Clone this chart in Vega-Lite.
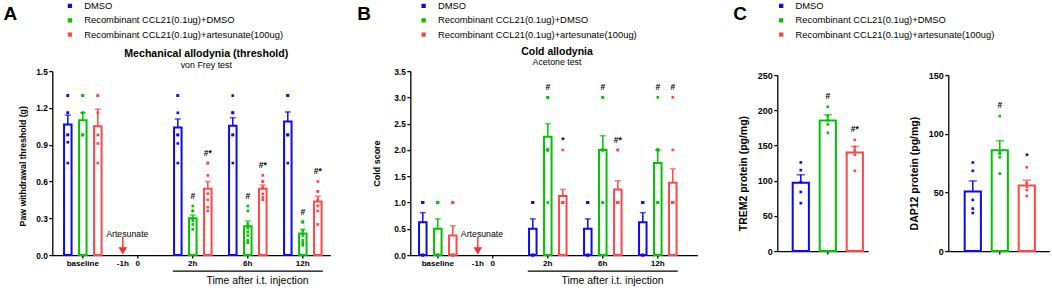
{
 "$schema": "https://vega.github.io/schema/vega-lite/v6.json",
 "background": "white",
 "padding": {"left": 3.3, "top": 1.1, "right": 0, "bottom": 0},
 "spacing": 80,
 "bounds": "flush",
 "center": true,
 "resolve": {"scale": {"color": "independent", "x": "independent", "y": "independent"}, "legend": {"color": "independent"}},
 "datasets": {
  "a_bars": [
   {"time": "baseline", "group": "DMSO", "mean": 1.065, "upper": 1.14, "max": 1.3},
   {"time": "baseline", "group": "Recombinant CCL21(0.1ug)+DMSO", "mean": 1.1, "upper": 1.16, "max": 1.3},
   {"time": "baseline", "group": "Recombinant CCL21(0.1ug)+artesunate(100ug)", "mean": 1.05, "upper": 1.19, "max": 1.3},
   {"time": "2h", "group": "DMSO", "mean": 1.04, "upper": 1.11, "max": 1.3},
   {"time": "2h", "group": "Recombinant CCL21(0.1ug)+DMSO", "mean": 0.3, "upper": 0.327, "max": 0.4, "sig": "#"},
   {"time": "2h", "group": "Recombinant CCL21(0.1ug)+artesunate(100ug)", "mean": 0.54, "upper": 0.6, "max": 0.75, "sig": "#*"},
   {"time": "6h", "group": "DMSO", "mean": 1.055, "upper": 1.12, "max": 1.3},
   {"time": "6h", "group": "Recombinant CCL21(0.1ug)+DMSO", "mean": 0.235, "upper": 0.278, "max": 0.4, "sig": "#"},
   {"time": "6h", "group": "Recombinant CCL21(0.1ug)+artesunate(100ug)", "mean": 0.54, "upper": 0.572, "max": 0.65, "sig": "#*"},
   {"time": "12h", "group": "DMSO", "mean": 1.09, "upper": 1.167, "max": 1.3},
   {"time": "12h", "group": "Recombinant CCL21(0.1ug)+DMSO", "mean": 0.177, "upper": 0.21, "max": 0.27, "sig": "#"},
   {"time": "12h", "group": "Recombinant CCL21(0.1ug)+artesunate(100ug)", "mean": 0.436, "upper": 0.48, "max": 0.6, "sig": "#*"}
  ],
  "a_dots": [
   {"time": "baseline", "group": "DMSO", "value": 1.3}, {"time": "baseline", "group": "DMSO", "value": 1.3}, {"time": "baseline", "group": "DMSO", "value": 1.16}, {"time": "baseline", "group": "DMSO", "value": 1.16}, {"time": "baseline", "group": "DMSO", "value": 0.98}, {"time": "baseline", "group": "DMSO", "value": 0.98}, {"time": "baseline", "group": "DMSO", "value": 0.92}, {"time": "baseline", "group": "DMSO", "value": 0.75},
   {"time": "baseline", "group": "Recombinant CCL21(0.1ug)+DMSO", "value": 1.3}, {"time": "baseline", "group": "Recombinant CCL21(0.1ug)+DMSO", "value": 1.3}, {"time": "baseline", "group": "Recombinant CCL21(0.1ug)+DMSO", "value": 1.3}, {"time": "baseline", "group": "Recombinant CCL21(0.1ug)+DMSO", "value": 1.16}, {"time": "baseline", "group": "Recombinant CCL21(0.1ug)+DMSO", "value": 1.16}, {"time": "baseline", "group": "Recombinant CCL21(0.1ug)+DMSO", "value": 0.98}, {"time": "baseline", "group": "Recombinant CCL21(0.1ug)+DMSO", "value": 0.98}, {"time": "baseline", "group": "Recombinant CCL21(0.1ug)+DMSO", "value": 0.98},
   {"time": "baseline", "group": "Recombinant CCL21(0.1ug)+artesunate(100ug)", "value": 1.3}, {"time": "baseline", "group": "Recombinant CCL21(0.1ug)+artesunate(100ug)", "value": 1.3}, {"time": "baseline", "group": "Recombinant CCL21(0.1ug)+artesunate(100ug)", "value": 1.16}, {"time": "baseline", "group": "Recombinant CCL21(0.1ug)+artesunate(100ug)", "value": 0.98}, {"time": "baseline", "group": "Recombinant CCL21(0.1ug)+artesunate(100ug)", "value": 0.91}, {"time": "baseline", "group": "Recombinant CCL21(0.1ug)+artesunate(100ug)", "value": 0.75},
   {"time": "2h", "group": "DMSO", "value": 1.3}, {"time": "2h", "group": "DMSO", "value": 1.3}, {"time": "2h", "group": "DMSO", "value": 1.16}, {"time": "2h", "group": "DMSO", "value": 0.98}, {"time": "2h", "group": "DMSO", "value": 0.98}, {"time": "2h", "group": "DMSO", "value": 0.91}, {"time": "2h", "group": "DMSO", "value": 0.75},
   {"time": "2h", "group": "Recombinant CCL21(0.1ug)+DMSO", "value": 0.4}, {"time": "2h", "group": "Recombinant CCL21(0.1ug)+DMSO", "value": 0.36}, {"time": "2h", "group": "Recombinant CCL21(0.1ug)+DMSO", "value": 0.36}, {"time": "2h", "group": "Recombinant CCL21(0.1ug)+DMSO", "value": 0.3}, {"time": "2h", "group": "Recombinant CCL21(0.1ug)+DMSO", "value": 0.28}, {"time": "2h", "group": "Recombinant CCL21(0.1ug)+DMSO", "value": 0.25}, {"time": "2h", "group": "Recombinant CCL21(0.1ug)+DMSO", "value": 0.21},
   {"time": "2h", "group": "Recombinant CCL21(0.1ug)+artesunate(100ug)", "value": 0.75}, {"time": "2h", "group": "Recombinant CCL21(0.1ug)+artesunate(100ug)", "value": 0.75}, {"time": "2h", "group": "Recombinant CCL21(0.1ug)+artesunate(100ug)", "value": 0.65}, {"time": "2h", "group": "Recombinant CCL21(0.1ug)+artesunate(100ug)", "value": 0.5}, {"time": "2h", "group": "Recombinant CCL21(0.1ug)+artesunate(100ug)", "value": 0.45}, {"time": "2h", "group": "Recombinant CCL21(0.1ug)+artesunate(100ug)", "value": 0.39}, {"time": "2h", "group": "Recombinant CCL21(0.1ug)+artesunate(100ug)", "value": 0.36},
   {"time": "6h", "group": "DMSO", "value": 1.3}, {"time": "6h", "group": "DMSO", "value": 1.16}, {"time": "6h", "group": "DMSO", "value": 1.16}, {"time": "6h", "group": "DMSO", "value": 1.16}, {"time": "6h", "group": "DMSO", "value": 0.98}, {"time": "6h", "group": "DMSO", "value": 0.98}, {"time": "6h", "group": "DMSO", "value": 0.75},
   {"time": "6h", "group": "Recombinant CCL21(0.1ug)+DMSO", "value": 0.4}, {"time": "6h", "group": "Recombinant CCL21(0.1ug)+DMSO", "value": 0.36}, {"time": "6h", "group": "Recombinant CCL21(0.1ug)+DMSO", "value": 0.25}, {"time": "6h", "group": "Recombinant CCL21(0.1ug)+DMSO", "value": 0.22}, {"time": "6h", "group": "Recombinant CCL21(0.1ug)+DMSO", "value": 0.19}, {"time": "6h", "group": "Recombinant CCL21(0.1ug)+DMSO", "value": 0.16}, {"time": "6h", "group": "Recombinant CCL21(0.1ug)+DMSO", "value": 0.12}, {"time": "6h", "group": "Recombinant CCL21(0.1ug)+DMSO", "value": 0.1},
   {"time": "6h", "group": "Recombinant CCL21(0.1ug)+artesunate(100ug)", "value": 0.65}, {"time": "6h", "group": "Recombinant CCL21(0.1ug)+artesunate(100ug)", "value": 0.6}, {"time": "6h", "group": "Recombinant CCL21(0.1ug)+artesunate(100ug)", "value": 0.6}, {"time": "6h", "group": "Recombinant CCL21(0.1ug)+artesunate(100ug)", "value": 0.55}, {"time": "6h", "group": "Recombinant CCL21(0.1ug)+artesunate(100ug)", "value": 0.55}, {"time": "6h", "group": "Recombinant CCL21(0.1ug)+artesunate(100ug)", "value": 0.5}, {"time": "6h", "group": "Recombinant CCL21(0.1ug)+artesunate(100ug)", "value": 0.47}, {"time": "6h", "group": "Recombinant CCL21(0.1ug)+artesunate(100ug)", "value": 0.45},
   {"time": "12h", "group": "DMSO", "value": 1.3}, {"time": "12h", "group": "DMSO", "value": 1.3}, {"time": "12h", "group": "DMSO", "value": 1.3}, {"time": "12h", "group": "DMSO", "value": 0.98}, {"time": "12h", "group": "DMSO", "value": 0.98}, {"time": "12h", "group": "DMSO", "value": 0.98}, {"time": "12h", "group": "DMSO", "value": 0.75},
   {"time": "12h", "group": "Recombinant CCL21(0.1ug)+DMSO", "value": 0.27}, {"time": "12h", "group": "Recombinant CCL21(0.1ug)+DMSO", "value": 0.27}, {"time": "12h", "group": "Recombinant CCL21(0.1ug)+DMSO", "value": 0.27}, {"time": "12h", "group": "Recombinant CCL21(0.1ug)+DMSO", "value": 0.2}, {"time": "12h", "group": "Recombinant CCL21(0.1ug)+DMSO", "value": 0.16}, {"time": "12h", "group": "Recombinant CCL21(0.1ug)+DMSO", "value": 0.12}, {"time": "12h", "group": "Recombinant CCL21(0.1ug)+DMSO", "value": 0.1}, {"time": "12h", "group": "Recombinant CCL21(0.1ug)+DMSO", "value": 0.08},
   {"time": "12h", "group": "Recombinant CCL21(0.1ug)+artesunate(100ug)", "value": 0.6}, {"time": "12h", "group": "Recombinant CCL21(0.1ug)+artesunate(100ug)", "value": 0.52}, {"time": "12h", "group": "Recombinant CCL21(0.1ug)+artesunate(100ug)", "value": 0.52}, {"time": "12h", "group": "Recombinant CCL21(0.1ug)+artesunate(100ug)", "value": 0.45}, {"time": "12h", "group": "Recombinant CCL21(0.1ug)+artesunate(100ug)", "value": 0.4}, {"time": "12h", "group": "Recombinant CCL21(0.1ug)+artesunate(100ug)", "value": 0.36}, {"time": "12h", "group": "Recombinant CCL21(0.1ug)+artesunate(100ug)", "value": 0.25}
  ],
  "b_bars": [
   {"time": "baseline", "group": "DMSO", "mean": 0.625, "upper": 0.808, "max": 1},
   {"time": "baseline", "group": "Recombinant CCL21(0.1ug)+DMSO", "mean": 0.5, "upper": 0.689, "max": 1},
   {"time": "baseline", "group": "Recombinant CCL21(0.1ug)+artesunate(100ug)", "mean": 0.375, "upper": 0.558, "max": 1},
   {"time": "2h", "group": "DMSO", "mean": 0.5, "upper": 0.689, "max": 1},
   {"time": "2h", "group": "Recombinant CCL21(0.1ug)+DMSO", "mean": 2.25, "upper": 2.5, "max": 3, "sig": "#"},
   {"time": "2h", "group": "Recombinant CCL21(0.1ug)+artesunate(100ug)", "mean": 1.125, "upper": 1.25, "max": 2, "sig": "*"},
   {"time": "6h", "group": "DMSO", "mean": 0.5, "upper": 0.689, "max": 1},
   {"time": "6h", "group": "Recombinant CCL21(0.1ug)+DMSO", "mean": 2.0, "upper": 2.27, "max": 3, "sig": "#"},
   {"time": "6h", "group": "Recombinant CCL21(0.1ug)+artesunate(100ug)", "mean": 1.25, "upper": 1.414, "max": 2, "sig": "#*"},
   {"time": "12h", "group": "DMSO", "mean": 0.625, "upper": 0.808, "max": 1},
   {"time": "12h", "group": "Recombinant CCL21(0.1ug)+DMSO", "mean": 1.75, "upper": 2.0, "max": 3, "sig": "#"},
   {"time": "12h", "group": "Recombinant CCL21(0.1ug)+artesunate(100ug)", "mean": 1.375, "upper": 1.64, "max": 3, "sig": "#"}
  ],
  "b_dots": [
   {"time": "baseline", "group": "DMSO", "value": 1}, {"time": "baseline", "group": "DMSO", "value": 1}, {"time": "baseline", "group": "DMSO", "value": 1}, {"time": "baseline", "group": "DMSO", "value": 1}, {"time": "baseline", "group": "DMSO", "value": 1}, {"time": "baseline", "group": "DMSO", "value": 0}, {"time": "baseline", "group": "DMSO", "value": 0}, {"time": "baseline", "group": "DMSO", "value": 0},
   {"time": "baseline", "group": "Recombinant CCL21(0.1ug)+DMSO", "value": 1}, {"time": "baseline", "group": "Recombinant CCL21(0.1ug)+DMSO", "value": 1}, {"time": "baseline", "group": "Recombinant CCL21(0.1ug)+DMSO", "value": 1}, {"time": "baseline", "group": "Recombinant CCL21(0.1ug)+DMSO", "value": 1}, {"time": "baseline", "group": "Recombinant CCL21(0.1ug)+DMSO", "value": 0}, {"time": "baseline", "group": "Recombinant CCL21(0.1ug)+DMSO", "value": 0}, {"time": "baseline", "group": "Recombinant CCL21(0.1ug)+DMSO", "value": 0}, {"time": "baseline", "group": "Recombinant CCL21(0.1ug)+DMSO", "value": 0},
   {"time": "baseline", "group": "Recombinant CCL21(0.1ug)+artesunate(100ug)", "value": 1}, {"time": "baseline", "group": "Recombinant CCL21(0.1ug)+artesunate(100ug)", "value": 1}, {"time": "baseline", "group": "Recombinant CCL21(0.1ug)+artesunate(100ug)", "value": 1}, {"time": "baseline", "group": "Recombinant CCL21(0.1ug)+artesunate(100ug)", "value": 0}, {"time": "baseline", "group": "Recombinant CCL21(0.1ug)+artesunate(100ug)", "value": 0}, {"time": "baseline", "group": "Recombinant CCL21(0.1ug)+artesunate(100ug)", "value": 0}, {"time": "baseline", "group": "Recombinant CCL21(0.1ug)+artesunate(100ug)", "value": 0}, {"time": "baseline", "group": "Recombinant CCL21(0.1ug)+artesunate(100ug)", "value": 0},
   {"time": "2h", "group": "DMSO", "value": 1}, {"time": "2h", "group": "DMSO", "value": 1}, {"time": "2h", "group": "DMSO", "value": 1}, {"time": "2h", "group": "DMSO", "value": 1}, {"time": "2h", "group": "DMSO", "value": 0}, {"time": "2h", "group": "DMSO", "value": 0}, {"time": "2h", "group": "DMSO", "value": 0}, {"time": "2h", "group": "DMSO", "value": 0},
   {"time": "2h", "group": "Recombinant CCL21(0.1ug)+DMSO", "value": 3}, {"time": "2h", "group": "Recombinant CCL21(0.1ug)+DMSO", "value": 3}, {"time": "2h", "group": "Recombinant CCL21(0.1ug)+DMSO", "value": 3}, {"time": "2h", "group": "Recombinant CCL21(0.1ug)+DMSO", "value": 2}, {"time": "2h", "group": "Recombinant CCL21(0.1ug)+DMSO", "value": 2}, {"time": "2h", "group": "Recombinant CCL21(0.1ug)+DMSO", "value": 2}, {"time": "2h", "group": "Recombinant CCL21(0.1ug)+DMSO", "value": 2}, {"time": "2h", "group": "Recombinant CCL21(0.1ug)+DMSO", "value": 1},
   {"time": "2h", "group": "Recombinant CCL21(0.1ug)+artesunate(100ug)", "value": 2}, {"time": "2h", "group": "Recombinant CCL21(0.1ug)+artesunate(100ug)", "value": 1}, {"time": "2h", "group": "Recombinant CCL21(0.1ug)+artesunate(100ug)", "value": 1}, {"time": "2h", "group": "Recombinant CCL21(0.1ug)+artesunate(100ug)", "value": 1}, {"time": "2h", "group": "Recombinant CCL21(0.1ug)+artesunate(100ug)", "value": 1}, {"time": "2h", "group": "Recombinant CCL21(0.1ug)+artesunate(100ug)", "value": 1}, {"time": "2h", "group": "Recombinant CCL21(0.1ug)+artesunate(100ug)", "value": 1}, {"time": "2h", "group": "Recombinant CCL21(0.1ug)+artesunate(100ug)", "value": 1},
   {"time": "6h", "group": "DMSO", "value": 1}, {"time": "6h", "group": "DMSO", "value": 1}, {"time": "6h", "group": "DMSO", "value": 1}, {"time": "6h", "group": "DMSO", "value": 1}, {"time": "6h", "group": "DMSO", "value": 0}, {"time": "6h", "group": "DMSO", "value": 0}, {"time": "6h", "group": "DMSO", "value": 0}, {"time": "6h", "group": "DMSO", "value": 0},
   {"time": "6h", "group": "Recombinant CCL21(0.1ug)+DMSO", "value": 3}, {"time": "6h", "group": "Recombinant CCL21(0.1ug)+DMSO", "value": 3}, {"time": "6h", "group": "Recombinant CCL21(0.1ug)+DMSO", "value": 2}, {"time": "6h", "group": "Recombinant CCL21(0.1ug)+DMSO", "value": 2}, {"time": "6h", "group": "Recombinant CCL21(0.1ug)+DMSO", "value": 2}, {"time": "6h", "group": "Recombinant CCL21(0.1ug)+DMSO", "value": 2}, {"time": "6h", "group": "Recombinant CCL21(0.1ug)+DMSO", "value": 1}, {"time": "6h", "group": "Recombinant CCL21(0.1ug)+DMSO", "value": 1},
   {"time": "6h", "group": "Recombinant CCL21(0.1ug)+artesunate(100ug)", "value": 2}, {"time": "6h", "group": "Recombinant CCL21(0.1ug)+artesunate(100ug)", "value": 2}, {"time": "6h", "group": "Recombinant CCL21(0.1ug)+artesunate(100ug)", "value": 1}, {"time": "6h", "group": "Recombinant CCL21(0.1ug)+artesunate(100ug)", "value": 1}, {"time": "6h", "group": "Recombinant CCL21(0.1ug)+artesunate(100ug)", "value": 1}, {"time": "6h", "group": "Recombinant CCL21(0.1ug)+artesunate(100ug)", "value": 1}, {"time": "6h", "group": "Recombinant CCL21(0.1ug)+artesunate(100ug)", "value": 1}, {"time": "6h", "group": "Recombinant CCL21(0.1ug)+artesunate(100ug)", "value": 1},
   {"time": "12h", "group": "DMSO", "value": 1}, {"time": "12h", "group": "DMSO", "value": 1}, {"time": "12h", "group": "DMSO", "value": 1}, {"time": "12h", "group": "DMSO", "value": 1}, {"time": "12h", "group": "DMSO", "value": 1}, {"time": "12h", "group": "DMSO", "value": 0}, {"time": "12h", "group": "DMSO", "value": 0}, {"time": "12h", "group": "DMSO", "value": 0},
   {"time": "12h", "group": "Recombinant CCL21(0.1ug)+DMSO", "value": 3}, {"time": "12h", "group": "Recombinant CCL21(0.1ug)+DMSO", "value": 2}, {"time": "12h", "group": "Recombinant CCL21(0.1ug)+DMSO", "value": 2}, {"time": "12h", "group": "Recombinant CCL21(0.1ug)+DMSO", "value": 2}, {"time": "12h", "group": "Recombinant CCL21(0.1ug)+DMSO", "value": 2}, {"time": "12h", "group": "Recombinant CCL21(0.1ug)+DMSO", "value": 1}, {"time": "12h", "group": "Recombinant CCL21(0.1ug)+DMSO", "value": 1}, {"time": "12h", "group": "Recombinant CCL21(0.1ug)+DMSO", "value": 1},
   {"time": "12h", "group": "Recombinant CCL21(0.1ug)+artesunate(100ug)", "value": 3}, {"time": "12h", "group": "Recombinant CCL21(0.1ug)+artesunate(100ug)", "value": 2}, {"time": "12h", "group": "Recombinant CCL21(0.1ug)+artesunate(100ug)", "value": 1}, {"time": "12h", "group": "Recombinant CCL21(0.1ug)+artesunate(100ug)", "value": 1}, {"time": "12h", "group": "Recombinant CCL21(0.1ug)+artesunate(100ug)", "value": 1}, {"time": "12h", "group": "Recombinant CCL21(0.1ug)+artesunate(100ug)", "value": 1}, {"time": "12h", "group": "Recombinant CCL21(0.1ug)+artesunate(100ug)", "value": 1}, {"time": "12h", "group": "Recombinant CCL21(0.1ug)+artesunate(100ug)", "value": 1}
  ],
  "c1_bars": [
   {"group": "DMSO", "mean": 97, "upper": 108.4, "max": 126},
   {"group": "Recombinant CCL21(0.1ug)+DMSO", "mean": 185.6, "upper": 193.7, "max": 205, "sig": "#"},
   {"group": "Recombinant CCL21(0.1ug)+artesunate(100ug)", "mean": 140.2, "upper": 148.7, "max": 158, "sig": "#*"}
  ],
  "c1_dots": [
   {"group": "DMSO", "value": 126}, {"group": "DMSO", "value": 115}, {"group": "DMSO", "value": 98}, {"group": "DMSO", "value": 84}, {"group": "DMSO", "value": 68},
   {"group": "Recombinant CCL21(0.1ug)+DMSO", "value": 205}, {"group": "Recombinant CCL21(0.1ug)+DMSO", "value": 192}, {"group": "Recombinant CCL21(0.1ug)+DMSO", "value": 186}, {"group": "Recombinant CCL21(0.1ug)+DMSO", "value": 180}, {"group": "Recombinant CCL21(0.1ug)+DMSO", "value": 168},
   {"group": "Recombinant CCL21(0.1ug)+artesunate(100ug)", "value": 158}, {"group": "Recombinant CCL21(0.1ug)+artesunate(100ug)", "value": 148}, {"group": "Recombinant CCL21(0.1ug)+artesunate(100ug)", "value": 143}, {"group": "Recombinant CCL21(0.1ug)+artesunate(100ug)", "value": 137}, {"group": "Recombinant CCL21(0.1ug)+artesunate(100ug)", "value": 114}
  ],
  "c2_bars": [
   {"group": "DMSO", "mean": 50.7, "upper": 59.8, "max": 75.5},
   {"group": "Recombinant CCL21(0.1ug)+DMSO", "mean": 86, "upper": 94, "max": 115, "sig": "#"},
   {"group": "Recombinant CCL21(0.1ug)+artesunate(100ug)", "mean": 55.8, "upper": 60.4, "max": 71.5, "sig": "*"}
  ],
  "c2_dots": [
   {"group": "DMSO", "value": 75.5}, {"group": "DMSO", "value": 68.4}, {"group": "DMSO", "value": 43.6}, {"group": "DMSO", "value": 36.2}, {"group": "DMSO", "value": 32.5},
   {"group": "Recombinant CCL21(0.1ug)+DMSO", "value": 115}, {"group": "Recombinant CCL21(0.1ug)+DMSO", "value": 84}, {"group": "Recombinant CCL21(0.1ug)+DMSO", "value": 83}, {"group": "Recombinant CCL21(0.1ug)+DMSO", "value": 80}, {"group": "Recombinant CCL21(0.1ug)+DMSO", "value": 66},
   {"group": "Recombinant CCL21(0.1ug)+artesunate(100ug)", "value": 71.5}, {"group": "Recombinant CCL21(0.1ug)+artesunate(100ug)", "value": 58}, {"group": "Recombinant CCL21(0.1ug)+artesunate(100ug)", "value": 55}, {"group": "Recombinant CCL21(0.1ug)+artesunate(100ug)", "value": 52}, {"group": "Recombinant CCL21(0.1ug)+artesunate(100ug)", "value": 47}
  ]
 },
 "hconcat": [
  {
   "width": 278, "height": 184,
   "title": {"text": "Mechanical allodynia (threshold)", "subtitle": "von Frey test", "fontSize": 10.6, "fontWeight": "bold", "subtitleFontSize": 8.9, "subtitleFontWeight": "normal", "subtitleColor": "black", "color": "black", "subtitlePadding": 1.5, "offset": 2, "anchor": "middle", "frame": "group", "dx": 15, "dy": 70.4},
   "layer": [
    {
     "data": {"name": "a_dots"},
     "mark": {"type": "point", "shape": "square", "filled": true, "size": 7, "opacity": 1},
     "encoding": {
      "x": {"field": "time", "type": "nominal", "scale": {"type": "band", "domain": ["baseline", "0", "2h", "6h", "12h"], "paddingInner": 0, "paddingOuter": 0.02727, "align": 1},
            "axis": {"title": "Time after i.t. injection", "titleFontWeight": "normal", "titleFontSize": 10.5, "titleX": 204.7, "titleY": 25.7, "titleBaseline": "middle", "labelAngle": 0, "labelFontSize": 8.1, "labelPadding": 1.7, "tickSize": 3, "labelOverlap": false, "encode": {"ticks": {"update": {"opacity": {"signal": "datum.value === 'baseline' ? 1 : 0"}}}}}},
      "xOffset": {"field": "group", "type": "nominal", "scale": {"domain": ["DMSO", "Recombinant CCL21(0.1ug)+DMSO", "Recombinant CCL21(0.1ug)+artesunate(100ug)"], "paddingInner": 0, "paddingOuter": 0.3333}},
      "y": {"field": "value", "type": "quantitative", "scale": {"domain": [0, 1.5], "nice": false}, "axis": {"values": [0, 0.3, 0.6, 0.9, 1.2, 1.5], "tickCount": 20, "format": ".1f", "labelOverlap": false, "labelFlush": false, "title": "Paw withdrawal threshold (g)", "titleFontSize": 8.7, "tickSize": 3.5, "labelPadding": 1.5, "titlePadding": 7.7, "titleY": 94.7}},
      "color": {"field": "group", "type": "nominal", "scale": {"domain": ["DMSO", "Recombinant CCL21(0.1ug)+DMSO", "Recombinant CCL21(0.1ug)+artesunate(100ug)"], "range": ["#0a0af5", "#00c400", "#ff4747"]},
                "legend": {"orient": "none", "legendX": -48.7, "legendY": -69.9, "title": "A", "titleOrient": "left", "titleAnchor": "middle", "titleBaseline": "alphabetic", "titleFontSize": 19, "titleFontWeight": "bold", "titleColor": "black", "titlePadding": 47.6, "labelFontSize": 9.4, "labelColor": "black", "labelLimit": 400, "labelOffset": 9.6, "symbolType": "square", "symbolSize": 8, "rowPadding": 3.4, "padding": 0}}
     }
    },
    {
     "data": {"name": "a_bars"},
     "mark": {"type": "bar", "filled": false, "strokeWidth": 2, "width": 7.5},
     "encoding": {
      "x": {"field": "time", "type": "nominal"},
      "xOffset": {"field": "group", "type": "nominal"},
      "y": {"field": "mean", "type": "quantitative"},
      "color": {"field": "group", "type": "nominal"}
     }
    },
    {
     "data": {"name": "a_bars"},
     "mark": {"type": "rule", "strokeWidth": 1.5},
     "encoding": {
      "x": {"field": "time", "type": "nominal"},
      "xOffset": {"field": "group", "type": "nominal"},
      "y": {"field": "mean", "type": "quantitative"},
      "y2": {"field": "upper"},
      "color": {"field": "group", "type": "nominal"}
     }
    },
    {
     "data": {"name": "a_bars"},
     "mark": {"type": "tick", "size": 6, "thickness": 1.5},
     "encoding": {
      "x": {"field": "time", "type": "nominal"},
      "xOffset": {"field": "group", "type": "nominal"},
      "y": {"field": "upper", "type": "quantitative"},
      "color": {"field": "group", "type": "nominal"}
     }
    },
    {
     "data": {"name": "a_bars"},
     "transform": [{"filter": "isValid(datum.sig)"}],
     "mark": {"type": "text", "fontSize": 8.5, "fontWeight": "bold", "color": "black", "baseline": "middle", "dy": -10},
     "encoding": {
      "x": {"field": "time", "type": "nominal"},
      "xOffset": {"field": "group", "type": "nominal"},
      "y": {"field": "max", "type": "quantitative"},
      "text": {"field": "sig"}
     }
    },
    {
     "data": {"values": [{}]},
     "mark": {"type": "rule", "strokeWidth": 1.4, "color": "black", "xOffset": -20, "x2Offset": 20, "yOffset": 16},
     "encoding": {"x": {"datum": "2h"}, "x2": {"datum": "12h"}, "y": {"datum": 0, "type": "quantitative"}}
    },
    {
     "data": {"values": [{}]},
     "mark": {"type": "point", "shape": "M0,-1V0.4M-0.38,0.35L0.38,0.35L0,1Z", "size": 256, "filled": true, "color": "#ff2a2a", "stroke": "#ff2a2a", "strokeWidth": 1.4, "opacity": 1, "xOffset": -15, "yOffset": -10},
     "encoding": {"x": {"datum": "0"}, "y": {"datum": 0, "type": "quantitative"}}
    },
    {
     "data": {"values": [{}]},
     "mark": {"type": "text", "text": "Artesunate", "fontSize": 8.75, "color": "black", "baseline": "middle", "dx": -10.5, "dy": -21.4},
     "encoding": {"x": {"datum": "0"}, "y": {"datum": 0, "type": "quantitative"}}
    },
    {
     "data": {"values": [{}]},
     "mark": {"type": "text", "text": "-1h", "fontSize": 8.1, "fontWeight": "bold", "color": "black", "baseline": "middle", "dx": -15, "dy": 8.7},
     "encoding": {"x": {"datum": "0"}, "y": {"datum": 0, "type": "quantitative"}}
    }
   ]
  },
  {
   "width": 287, "height": 184,
   "title": {"text": "Cold allodynia", "subtitle": "Acetone test", "fontSize": 10.5, "fontWeight": "bold", "subtitleFontSize": 8.8, "subtitleFontWeight": "normal", "subtitleColor": "black", "color": "black", "subtitlePadding": 1, "offset": 5, "anchor": "middle", "frame": "group", "dx": 3.2, "dy": 71},
   "layer": [
    {
     "data": {"name": "b_dots"},
     "mark": {"type": "point", "shape": "square", "filled": true, "size": 7, "opacity": 1},
     "encoding": {
      "x": {"field": "time", "type": "nominal", "scale": {"type": "band", "domain": ["baseline", "0", "2h", "6h", "12h"], "paddingInner": 0, "paddingOuter": 0.1091, "align": 0},
            "axis": {"title": "Time after i.t. injection", "titleFontWeight": "normal", "titleFontSize": 10.5, "titleX": 201.7, "titleY": 25, "titleBaseline": "middle", "labelAngle": 0, "labelFontSize": 8.1, "labelPadding": 1.7, "tickSize": 3, "labelOverlap": false, "encode": {"ticks": {"update": {"opacity": {"signal": "datum.value === 'baseline' ? 1 : 0"}}}}}},
      "xOffset": {"field": "group", "type": "nominal", "scale": {"domain": ["DMSO", "Recombinant CCL21(0.1ug)+DMSO", "Recombinant CCL21(0.1ug)+artesunate(100ug)"], "paddingInner": 0, "paddingOuter": 0.3333}},
      "y": {"field": "value", "type": "quantitative", "scale": {"domain": [0, 3.5], "nice": false}, "axis": {"values": [0, 0.5, 1, 1.5, 2, 2.5, 3, 3.5], "tickCount": 20, "format": ".1f", "labelOverlap": false, "labelFlush": false, "title": "Cold score", "titleFontSize": 9, "tickSize": 3.5, "labelPadding": 1.5, "titlePadding": 12}},
      "color": {"field": "group", "type": "nominal", "scale": {"domain": ["DMSO", "Recombinant CCL21(0.1ug)+DMSO", "Recombinant CCL21(0.1ug)+artesunate(100ug)"], "range": ["#0a0af5", "#00c400", "#ff4747"]},
                "legend": {"orient": "none", "legendX": -53, "legendY": -69.9, "title": "B", "titleOrient": "left", "titleAnchor": "middle", "titleBaseline": "alphabetic", "titleFontSize": 19, "titleFontWeight": "bold", "titleColor": "black", "titlePadding": 47.6, "labelFontSize": 9.4, "labelColor": "black", "labelLimit": 400, "labelOffset": 9.6, "symbolType": "square", "symbolSize": 8, "rowPadding": 3.4, "padding": 0}}
     }
    },
    {
     "data": {"name": "b_bars"},
     "mark": {"type": "bar", "filled": false, "strokeWidth": 2, "width": 7.5},
     "encoding": {
      "x": {"field": "time", "type": "nominal"},
      "xOffset": {"field": "group", "type": "nominal"},
      "y": {"field": "mean", "type": "quantitative"},
      "color": {"field": "group", "type": "nominal"}
     }
    },
    {
     "data": {"name": "b_bars"},
     "mark": {"type": "rule", "strokeWidth": 1.5},
     "encoding": {
      "x": {"field": "time", "type": "nominal"},
      "xOffset": {"field": "group", "type": "nominal"},
      "y": {"field": "mean", "type": "quantitative"},
      "y2": {"field": "upper"},
      "color": {"field": "group", "type": "nominal"}
     }
    },
    {
     "data": {"name": "b_bars"},
     "mark": {"type": "tick", "size": 6, "thickness": 1.5},
     "encoding": {
      "x": {"field": "time", "type": "nominal"},
      "xOffset": {"field": "group", "type": "nominal"},
      "y": {"field": "upper", "type": "quantitative"},
      "color": {"field": "group", "type": "nominal"}
     }
    },
    {
     "data": {"name": "b_bars"},
     "transform": [{"filter": "isValid(datum.sig)"}],
     "mark": {"type": "text", "fontSize": 8.5, "fontWeight": "bold", "color": "black", "baseline": "middle", "dy": -10},
     "encoding": {
      "x": {"field": "time", "type": "nominal"},
      "xOffset": {"field": "group", "type": "nominal"},
      "y": {"field": "max", "type": "quantitative"},
      "text": {"field": "sig"}
     }
    },
    {
     "data": {"values": [{}]},
     "mark": {"type": "rule", "strokeWidth": 1.4, "color": "black", "xOffset": -20, "x2Offset": 20, "yOffset": 16},
     "encoding": {"x": {"datum": "2h"}, "x2": {"datum": "12h"}, "y": {"datum": 0, "type": "quantitative"}}
    },
    {
     "data": {"values": [{}]},
     "mark": {"type": "point", "shape": "M0,-1V0.4M-0.38,0.35L0.38,0.35L0,1Z", "size": 256, "filled": true, "color": "#ff2a2a", "stroke": "#ff2a2a", "strokeWidth": 1.4, "opacity": 1, "xOffset": -15, "yOffset": -10},
     "encoding": {"x": {"datum": "0"}, "y": {"datum": 0, "type": "quantitative"}}
    },
    {
     "data": {"values": [{}]},
     "mark": {"type": "text", "text": "Artesunate", "fontSize": 8.75, "color": "black", "baseline": "middle", "dx": -10.8, "dy": -21.4},
     "encoding": {"x": {"datum": "0"}, "y": {"datum": 0, "type": "quantitative"}}
    },
    {
     "data": {"values": [{}]},
     "mark": {"type": "text", "text": "-1h", "fontSize": 8.1, "fontWeight": "bold", "color": "black", "baseline": "middle", "dx": -15, "dy": 8.7},
     "encoding": {"x": {"datum": "0"}, "y": {"datum": 0, "type": "quantitative"}}
    }
   ]
  },
  {
   "width": 91, "height": 176,
   "layer": [
    {
     "data": {"name": "c1_dots"},
     "mark": {"type": "point", "shape": "square", "filled": true, "size": 7, "opacity": 1},
     "encoding": {
      "x": {"field": "group", "type": "nominal", "scale": {"type": "band", "domain": ["DMSO", "Recombinant CCL21(0.1ug)+DMSO", "Recombinant CCL21(0.1ug)+artesunate(100ug)"], "paddingInner": 0, "paddingOuter": 0.1852, "align": 1},
            "axis": {"title": null, "labels": false, "values": ["Recombinant CCL21(0.1ug)+DMSO"], "tickSize": 3}},
      "y": {"field": "value", "type": "quantitative", "scale": {"domain": [0, 250], "nice": false}, "axis": {"values": [0, 50, 100, 150, 200, 250], "tickCount": 20, "labelOverlap": false, "labelFlush": false, "title": "TREM2 protein (pg/mg)", "titleFontSize": 10.5, "labelFontSize": 9, "tickSize": 3.5, "labelPadding": 1.5, "titlePadding": 9, "titleY": 98}},
      "color": {"field": "group", "type": "nominal", "scale": {"domain": ["DMSO", "Recombinant CCL21(0.1ug)+DMSO", "Recombinant CCL21(0.1ug)+artesunate(100ug)"], "range": ["#0a0af5", "#00c400", "#ff4747"]},
                "legend": {"orient": "none", "legendX": -44, "legendY": -73.9, "title": "C", "titleOrient": "left", "titleAnchor": "middle", "titleBaseline": "alphabetic", "titleFontSize": 19, "titleFontWeight": "bold", "titleColor": "black", "titlePadding": 29.2, "labelFontSize": 9.4, "labelColor": "black", "labelLimit": 400, "labelOffset": 9.6, "symbolType": "square", "symbolSize": 8, "rowPadding": 3.4, "padding": 0}}
     }
    },
    {
     "data": {"name": "c1_bars"},
     "mark": {"type": "bar", "filled": false, "strokeWidth": 2, "width": {"band": 0.6}},
     "encoding": {"x": {"field": "group", "type": "nominal"}, "y": {"field": "mean", "type": "quantitative"}, "color": {"field": "group", "type": "nominal"}}
    },
    {
     "data": {"name": "c1_bars"},
     "mark": {"type": "rule", "strokeWidth": 1.5},
     "encoding": {"x": {"field": "group", "type": "nominal"}, "y": {"field": "mean", "type": "quantitative"}, "y2": {"field": "upper"}, "color": {"field": "group", "type": "nominal"}}
    },
    {
     "data": {"name": "c1_bars"},
     "mark": {"type": "tick", "size": 8, "thickness": 1.5},
     "encoding": {"x": {"field": "group", "type": "nominal"}, "y": {"field": "upper", "type": "quantitative"}, "color": {"field": "group", "type": "nominal"}}
    },
    {
     "data": {"name": "c1_bars"},
     "transform": [{"filter": "isValid(datum.sig)"}],
     "mark": {"type": "text", "fontSize": 8.5, "fontWeight": "bold", "color": "black", "baseline": "middle", "dy": -11},
     "encoding": {"x": {"field": "group", "type": "nominal"}, "y": {"field": "max", "type": "quantitative"}, "text": {"field": "sig"}}
    }
   ]
  },
  {
   "width": 102, "height": 176,
   "layer": [
    {
     "data": {"name": "c2_dots"},
     "mark": {"type": "point", "shape": "square", "filled": true, "size": 7, "opacity": 1},
     "encoding": {
      "x": {"field": "group", "type": "nominal", "scale": {"type": "band", "domain": ["DMSO", "Recombinant CCL21(0.1ug)+DMSO", "Recombinant CCL21(0.1ug)+artesunate(100ug)"], "paddingInner": 0, "paddingOuter": 0.3889, "align": 0.5238},
            "axis": {"title": null, "labels": false, "values": ["Recombinant CCL21(0.1ug)+DMSO"], "tickSize": 3}},
      "y": {"field": "value", "type": "quantitative", "scale": {"domain": [0, 150], "nice": false}, "axis": {"values": [0, 50, 100, 150], "tickCount": 20, "labelOverlap": false, "labelFlush": false, "title": "DAP12 protein (pg/mg)", "titleFontSize": 10.5, "labelFontSize": 9, "tickSize": 3.5, "labelPadding": 1.5, "titlePadding": 8.3, "titleY": 98}},
      "color": {"field": "group", "type": "nominal", "scale": {"domain": ["DMSO", "Recombinant CCL21(0.1ug)+DMSO", "Recombinant CCL21(0.1ug)+artesunate(100ug)"], "range": ["#0a0af5", "#00c400", "#ff4747"]}, "legend": null}
     }
    },
    {
     "data": {"name": "c2_bars"},
     "mark": {"type": "bar", "filled": false, "strokeWidth": 2, "width": {"band": 0.6}},
     "encoding": {"x": {"field": "group", "type": "nominal"}, "y": {"field": "mean", "type": "quantitative"}, "color": {"field": "group", "type": "nominal"}}
    },
    {
     "data": {"name": "c2_bars"},
     "mark": {"type": "rule", "strokeWidth": 1.5},
     "encoding": {"x": {"field": "group", "type": "nominal"}, "y": {"field": "mean", "type": "quantitative"}, "y2": {"field": "upper"}, "color": {"field": "group", "type": "nominal"}}
    },
    {
     "data": {"name": "c2_bars"},
     "mark": {"type": "tick", "size": 8, "thickness": 1.5},
     "encoding": {"x": {"field": "group", "type": "nominal"}, "y": {"field": "upper", "type": "quantitative"}, "color": {"field": "group", "type": "nominal"}}
    },
    {
     "data": {"name": "c2_bars"},
     "transform": [{"filter": "isValid(datum.sig)"}],
     "mark": {"type": "text", "fontSize": 8.5, "fontWeight": "bold", "color": "black", "baseline": "middle", "dy": -11},
     "encoding": {"x": {"field": "group", "type": "nominal"}, "y": {"field": "max", "type": "quantitative"}, "text": {"field": "sig"}}
    }
   ]
  }
 ],
 "config": {
  "font": "Liberation Sans",
  "view": {"stroke": null},
  "axis": {"domainColor": "black", "domainWidth": 1.3, "tickColor": "black", "tickWidth": 1.3, "labelColor": "black", "titleColor": "black", "labelFontWeight": "bold", "labelFontSize": 8.4, "titleFontWeight": "bold", "grid": false},
  "title": {"color": "black", "font": "Liberation Sans"}
 }
}
